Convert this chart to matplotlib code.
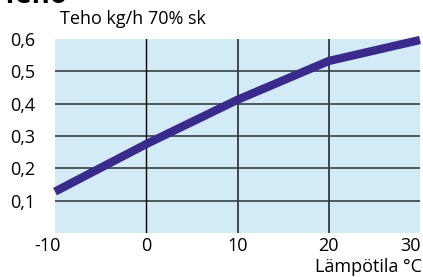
import matplotlib
matplotlib.use("Agg")
import matplotlib.pyplot as plt
import matplotlib.transforms as mtransforms
from matplotlib.ticker import FixedLocator, FuncFormatter

# data
temps = [-10, 0, 10, 20, 30]
teho = [0.128, 0.275, 0.412, 0.532, 0.597]

x_ticks = [-10, 0, 10, 20, 30]
y_ticks = [0.1, 0.2, 0.3, 0.4, 0.5, 0.6]

plt.rcParams['font.family'] = ['Open Sans', 'DejaVu Sans']
plt.rcParams['axes.unicode_minus'] = False

fig = plt.figure(figsize=(4.23, 2.77), dpi=100)
ax = fig.add_axes([55 / 423, 44 / 277, 365 / 423, 194 / 277])
ax.set_facecolor('#d2ebf7')

ax.set_xlim(-10, 30)
ax.set_ylim(0.0, 0.6)

# grid lines
for g in [0.1, 0.2, 0.3, 0.4, 0.5]:
    ax.axhline(g, color='#3f4d52', lw=1.3, zorder=1)
for g in [10, 20]:
    ax.axvline(g, color='#2f3a3e', lw=1.3, zorder=1)
ax.axvline(0, color='black', lw=1.0, zorder=1)

ax.plot(temps, teho, color='#3a2a8c', lw=6.0, solid_capstyle='butt',
        solid_joinstyle='miter', zorder=3, clip_on=False)

for s in ax.spines.values():
    s.set_visible(False)

ax.xaxis.set_major_locator(FixedLocator(x_ticks))
ax.yaxis.set_major_locator(FixedLocator(y_ticks))
ax.yaxis.set_major_formatter(FuncFormatter(lambda v, p: f"{v:.1f}".replace('.', ',')))
ax.tick_params(length=0, labelsize=13, colors='black')
ax.tick_params(axis='x', pad=3)
ax.tick_params(axis='y', pad=14)

# end labels sit a bit inward, as in the reference
fig.canvas.draw()
xlabels = ax.get_xticklabels()
for lbl, dx in [(xlabels[0], -8), (xlabels[-1], -10)]:
    lbl.set_transform(lbl.get_transform() +
                      mtransforms.ScaledTranslation(dx / 100, 0, fig.dpi_scale_trans))

fig.text(60 / 423, 1 - 19 / 277, 'Teho kg/h 70% sk', fontsize=13, va='center', ha='left')
fig.text(422 / 423, 1 - 267 / 277, 'Lämpötila °C', fontsize=13, va='center', ha='right')
fig.text(2 / 423, 1 - 3 / 277, 'Teho', fontsize=20, fontweight='bold', va='baseline', ha='left')

fig.savefig('out.png', dpi=100)
